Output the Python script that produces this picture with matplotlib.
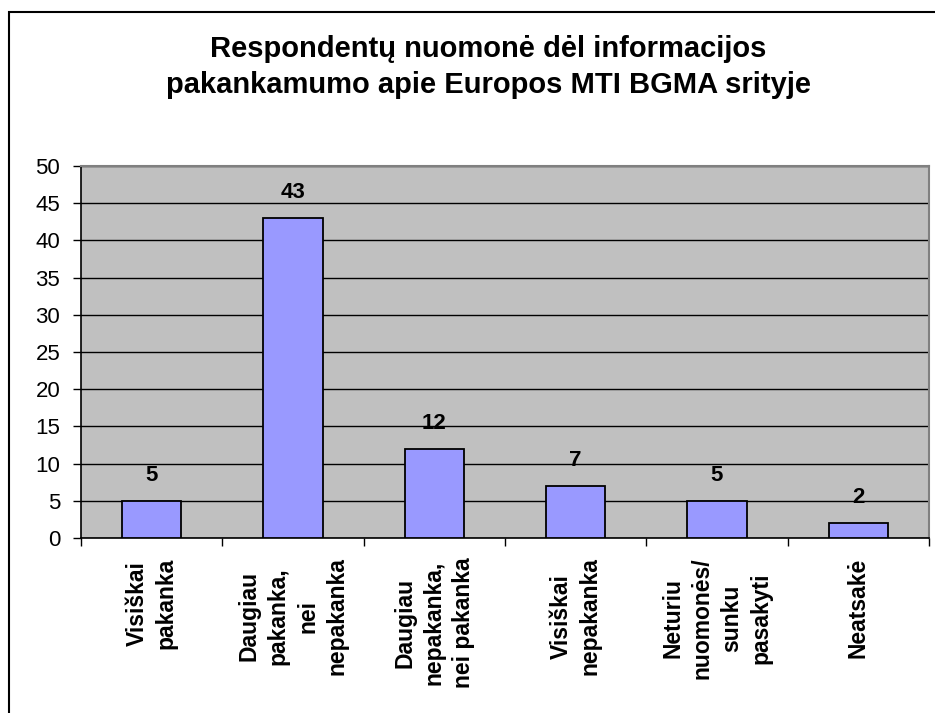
import numpy as np
import matplotlib
matplotlib.use('Agg')
import matplotlib.pyplot as plt
from matplotlib.patches import Rectangle

plt.rcParams['font.family'] = ['Liberation Sans', 'DejaVu Sans']

# data
categories = [
    'Visiškai\npakanka',
    'Daugiau\npakanka,\nnei\nnepakanka',
    'Daugiau\nnepakanka,\nnei pakanka',
    'Visiškai\nnepakanka',
    'Neturiu\nnuomonės/\nsunku\npasakyti',
    'Neatsakė',
]
counts = [5, 43, 12, 7, 5, 2]
y_ticks = list(range(0, 51, 5))
title = ('Respondentų nuomonė dėl informacijos\n'
         'pakankamumo apie Europos MTI BGMA srityje')

W, H = 935, 713
fig = plt.figure(figsize=(W / 100, H / 100), dpi=100)
ax = fig.add_axes([81 / W, 1 - 538 / H, 848 / W, 372 / H])

x = np.arange(len(categories))
ax.set_facecolor('#C0C0C0')
ax.set_axisbelow(True)
ax.yaxis.grid(True, color='black', linewidth=1.0)
ax.bar(x, counts, width=0.42, color='#9999FF', edgecolor='black',
       linewidth=1.3, zorder=3)

for xi, v in zip(x, counts):
    ax.annotate(str(v), (xi, v), xytext=(0, 14.5), textcoords='offset points',
                ha='center', va='baseline', fontsize=16, fontweight='bold')

ax.set_xlim(-0.5, len(categories) - 0.5)
ax.set_ylim(0, 50)
ax.set_yticks(y_ticks)
ax.tick_params(axis='y', direction='out', length=6, width=1, pad=9,
               labelsize=16)

# category labels at centres, tick marks at boundaries
ax.set_xticks(x)
ax.set_xticklabels(categories, rotation=90, fontsize=16.5, fontweight='bold',
                   multialignment='center', va='top', ha='center',
                   linespacing=1.35)
ax.tick_params(axis='x', which='major', length=0, pad=14)
ax.set_xticks(np.arange(-0.5, len(categories)), minor=True)
ax.tick_params(axis='x', which='minor', direction='out', length=6, width=1)

for side in ('left', 'bottom'):
    ax.spines[side].set_color('black')
    ax.spines[side].set_linewidth(1.2)
for side in ('top', 'right'):
    ax.spines[side].set_color('#808080')
    ax.spines[side].set_linewidth(1.5)

fig.text(488 / W, 1 - 67 / H, title, ha='center', va='center',
         fontsize=21, fontweight='bold', linespacing=1.38)

# chart-area border (right and bottom run off the image)
fig.patches.append(Rectangle((9 / W, -0.1), 1.2, 1.1 - 12 / H,
                             transform=fig.transFigure, fill=False,
                             edgecolor='black', linewidth=1.5))

fig.savefig('out.png', dpi=100)
